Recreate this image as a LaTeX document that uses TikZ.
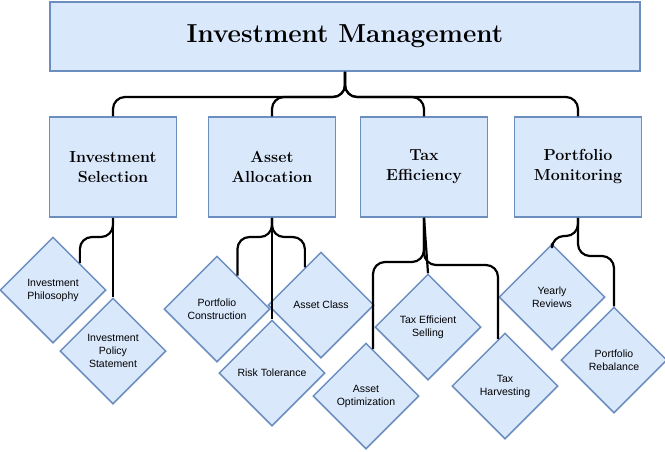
\documentclass[tikz,border=0pt]{standalone}
\usepackage{fontspec}
\setsansfont{Liberation Sans}
\usetikzlibrary{shapes.geometric,calc}
\definecolor{boxfill}{HTML}{DAE8FC}
\definecolor{boxline}{HTML}{6C8EBF}
\begin{document}
\begin{tikzpicture}[x=1pt,y=-1pt,
    head/.style={draw=boxline,fill=boxfill,line width=1.5pt,minimum width=127pt,
      minimum height=100pt,align=center,font=\bfseries\fontsize{16}{20}\selectfont},
    leaf/.style={diamond,aspect=1,draw=boxline,fill=boxfill,line width=1.5pt,
      minimum size=106pt,inner sep=0pt,align=center,font=\sffamily\fontsize{10.5}{13}\selectfont},
    conn/.style={line width=2.2pt,rounded corners=12pt}]
  \useasboundingbox (0,0) rectangle (665,451);
  \node[draw=boxline,fill=boxfill,line width=1.5pt,minimum width=590pt,minimum height=69pt,
    font=\bfseries\fontsize{26}{30}\selectfont] (top) at (345,36.5) {Investment Management};
  \node[head] (sel) at (113,167) {Investment\\Selection};
  \node[head] (alloc) at (272,167) {Asset\\Allocation};
  \node[head] (tax) at (424,167) {Tax\\Efficiency};
  \node[head] (mon) at (578,167) {Portfolio\\Monitoring};
  % leaves
  \node[leaf] (phil) at (53,290) {Investment\\Philosophy};
  \node[leaf] (policy) at (113,351) {Investment\\Policy\\Statement};
  \node[leaf] (constr) at (217,309) {Portfolio\\Construction};
  \node[leaf] (risk) at (272,373) {Risk Tolerance};
  \node[leaf] (class) at (321,305) {Asset Class};
  \node[leaf] (sell) at (428,327) {Tax Efficient\\Selling};
  \node[leaf] (opt) at (366,396) {Asset\\Optimization};
  \node[leaf] (harv) at (505,386) {Tax\\Harvesting};
  \node[leaf] (yearly) at (552,297) {Yearly\\Reviews};
  \node[leaf] (rebal) at (614,360) {Portfolio\\Rebalance};
  % connectors
  \coordinate (hub) at (345,97);
  \foreach \n in {sel,alloc,tax,mon}
    \draw[conn] (top.south) -- (hub) -| (\n.north);
  \draw[conn] (sel.south) -- (113,237) -| (phil.north east);
  \draw[conn] (sel.south) -- (policy.north);
  \draw[conn] (alloc.south) -- (272,237) -| ($(constr.north)!0.38!(constr.east)$);
  \draw[conn] (alloc.south) -- (risk.north);
  \draw[conn] (alloc.south) -- (272,237) -| ($(class.north)!0.3!(class.west)$);
  \draw[conn] (tax.south) -- (424,262) -| ($(opt.north)!0.13!(opt.east)$);
  \draw[conn] (tax.south) -- (sell.north);
  \draw[conn] (tax.south) -- (424,265) -| ($(harv.north)!0.13!(harv.west)$);
  \draw[conn] (mon.south) -- (578,236) -| (yearly.north);
  \draw[conn] (mon.south) -- (578,256) -| (rebal.north);
\end{tikzpicture}
\end{document}
